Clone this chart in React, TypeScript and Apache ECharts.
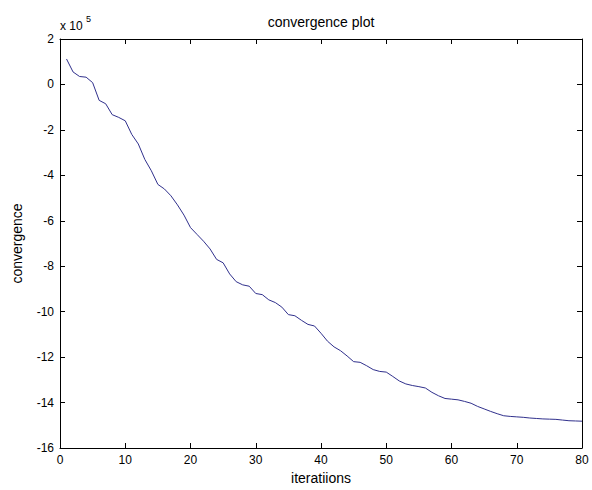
import React, { useEffect, useRef } from "react";
import * as echarts from "echarts";

// iteration numbers
const iterations: number[] = Array.from({ length: 80 }, (_, i) => i + 1);

// convergence values, in units of 1e5
const convergenceE5: number[] = [
  1.12, 0.55, 0.35, 0.32, 0.08, -0.7, -0.85, -1.33, -1.45, -1.6,
  -2.2, -2.62, -3.3, -3.8, -4.4, -4.6, -4.9, -5.3, -5.75, -6.3,
  -6.6, -6.9, -7.24, -7.7, -7.85, -8.34, -8.68, -8.82, -8.88, -9.2,
  -9.25, -9.48, -9.6, -9.8, -10.13, -10.18, -10.38, -10.56, -10.63, -10.95,
  -11.3, -11.55, -11.72, -11.95, -12.2, -12.23, -12.38, -12.55, -12.63, -12.66,
  -12.85, -13.05, -13.18, -13.25, -13.3, -13.36, -13.55, -13.7, -13.82, -13.85,
  -13.88, -13.95, -14.03, -14.17, -14.28, -14.39, -14.49, -14.58, -14.61, -14.63,
  -14.65, -14.68, -14.7, -14.72, -14.73, -14.74, -14.77, -14.8, -14.81, -14.82,
];

const xTicks = { min: 0, max: 80, interval: 10 };
const yTicks = { min: -16, max: 2, interval: 2 };

const titleText = "convergence plot";
const xName = "iteratiions";
const yName = "convergence";

export default function App() {
  const ref = useRef<HTMLDivElement>(null);
  useEffect(() => {
    if (!ref.current) return;
    const chart = echarts.init(ref.current, null, { renderer: "svg" });
    const font = "Liberation Sans, Arial, sans-serif";
    const axisCommon = {
      axisLine: { show: true, onZero: false, lineStyle: { color: "#000", width: 1 } },
      axisTick: { show: true, inside: true, length: 5, lineStyle: { color: "#000" } },
      splitLine: { show: false },
    };
    chart.setOption({
      animation: false,
      backgroundColor: "#fff",
      textStyle: { fontFamily: font, color: "#000" },
      grid: { left: 60, right: 10, top: 39, bottom: 40, containLabel: false },
      graphic: [
        {
          type: "text",
          x: 321,
          y: 22,
          style: { text: titleText, align: "center", verticalAlign: "middle", fontSize: 14, fontFamily: font, fill: "#000" },
        },
        {
          type: "text",
          x: 60,
          y: 26,
          style: { text: "x 10", align: "left", verticalAlign: "middle", fontSize: 12, fontFamily: font, fill: "#000" },
        },
        {
          type: "text",
          x: 86,
          y: 19,
          style: { text: "5", align: "left", verticalAlign: "middle", fontSize: 9, fontFamily: font, fill: "#000" },
        },
      ],
      xAxis: [
        {
          type: "value",
          position: "bottom",
          ...xTicks,
          ...axisCommon,
          name: xName,
          nameLocation: "middle",
          nameGap: 23,
          nameTextStyle: { fontSize: 14, color: "#000", fontFamily: font },
          axisLabel: { show: true, fontSize: 12, color: "#000", margin: 6, fontFamily: font },
        },
        {
          type: "value",
          position: "top",
          ...xTicks,
          ...axisCommon,
          axisLabel: { show: false },
        },
      ],
      yAxis: [
        {
          type: "value",
          position: "left",
          ...yTicks,
          ...axisCommon,
          name: yName,
          nameLocation: "middle",
          nameGap: 36,
          nameRotate: 90,
          nameTextStyle: { fontSize: 14, color: "#000", fontFamily: font },
          axisLabel: { show: true, fontSize: 12, color: "#000", margin: 6, fontFamily: font },
        },
        {
          type: "value",
          position: "right",
          ...yTicks,
          ...axisCommon,
          axisLabel: { show: false },
        },
      ],
      series: [
        {
          type: "line",
          xAxisIndex: 0,
          yAxisIndex: 0,
          data: iterations.map((it, i) => [it, convergenceE5[i]]),
          showSymbol: false,
          symbol: "none",
          lineStyle: { color: "#30308c", width: 1 },
        },
      ],
    });
    return () => chart.dispose();
  }, []);
  return (
    <div
      ref={ref}
      style={{ position: "fixed", left: 0, top: 0, width: 592, height: 490, background: "#fff" }}
    />
  );
}
